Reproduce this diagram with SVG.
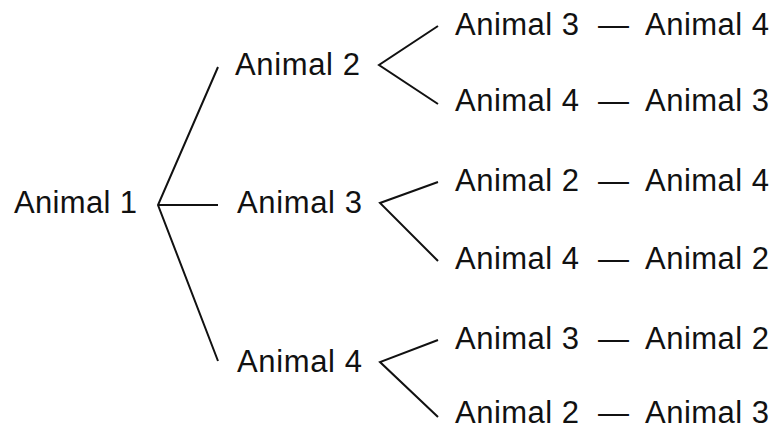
<svg xmlns="http://www.w3.org/2000/svg" width="776" height="430" viewBox="0 0 776 430">
  <style>
    .lbl { font-family: "Liberation Sans", Arial, sans-serif; font-size: 31px; fill: #111; }
    .edge { fill: none; stroke: #111; stroke-width: 2; stroke-linejoin: miter; }
  </style>
  <rect width="776" height="430" fill="#fff"/>

  <!-- branches of the tree -->
  <g id="connectors">
    <path class="edge" d="M218,67 L158,205 L218,361 M158,205 H218"/>
    <path class="edge" d="M438,26 L379,65 L438,104"/>
    <path class="edge" d="M438,182 L380,203 L438,261"/>
    <path class="edge" d="M438,340 L380,362 L438,417"/>
  </g>

  <!-- first choice -->
  <g id="animal-1"><text class="lbl" x="14" y="213" textLength="123">Animal 1</text></g>

  <!-- second choice -->
  <g id="animal-2"><text class="lbl" x="235" y="75" textLength="125">Animal 2</text></g>
  <g id="animal-3"><text class="lbl" x="237" y="213" textLength="125">Animal 3</text></g>
  <g id="animal-4"><text class="lbl" x="237" y="372" textLength="125">Animal 4</text></g>

  <!-- remaining two animals, in order -->
  <g id="pair-3-4"><text class="lbl" y="35"><tspan x="455" textLength="124">Animal 3</tspan><tspan x="598">—</tspan><tspan x="645" textLength="124">Animal 4</tspan></text></g>
  <g id="pair-4-3"><text class="lbl" y="111"><tspan x="455" textLength="124">Animal 4</tspan><tspan x="598">—</tspan><tspan x="645" textLength="124">Animal 3</tspan></text></g>
  <g id="pair-2-4"><text class="lbl" y="191"><tspan x="455" textLength="124">Animal 2</tspan><tspan x="598">—</tspan><tspan x="645" textLength="124">Animal 4</tspan></text></g>
  <g id="pair-4-2"><text class="lbl" y="269"><tspan x="455" textLength="124">Animal 4</tspan><tspan x="598">—</tspan><tspan x="645" textLength="124">Animal 2</tspan></text></g>
  <g id="pair-3-2"><text class="lbl" y="349"><tspan x="455" textLength="124">Animal 3</tspan><tspan x="598">—</tspan><tspan x="645" textLength="124">Animal 2</tspan></text></g>
  <g id="pair-2-3"><text class="lbl" y="423"><tspan x="455" textLength="124">Animal 2</tspan><tspan x="598">—</tspan><tspan x="645" textLength="124">Animal 3</tspan></text></g>
</svg>
